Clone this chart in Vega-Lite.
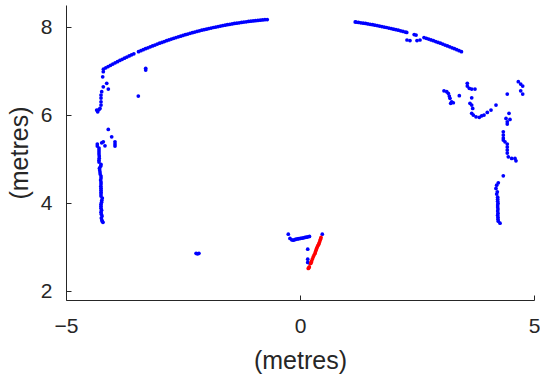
{
"$schema":"https://vega.github.io/schema/vega-lite/v6.json",
"width":468,"height":295,
"autosize":{"type":"none"},
"padding":{"left":66,"top":5,"right":6,"bottom":79},
"background":"white",
"config":{"view":{"stroke":null},
"axis":{"domainColor":"#262626","tickColor":"#262626","labelColor":"#262626","titleColor":"#262626","labelFont":"Liberation Sans","titleFont":"Liberation Sans","titleFontWeight":"normal","labelFontSize":21,"titleFontSize":25,"domainWidth":1,"tickWidth":1,"grid":false,"tickSize":-5,"labelFlush":false,"labelOverlap":false}},
"data":{"values":[
{"x":-4.20,"y":7.043,"c":"b"},{"x":-4.15,"y":7.072,"c":"b"},{"x":-4.10,"y":7.101,"c":"b"},{"x":-4.05,"y":7.130,"c":"b"},{"x":-4.00,"y":7.158,"c":"b"},{"x":-3.95,"y":7.186,"c":"b"},{"x":-3.90,"y":7.213,"c":"b"},{"x":-3.85,"y":7.240,"c":"b"},{"x":-3.80,"y":7.266,"c":"b"},{"x":-3.75,"y":7.292,"c":"b"},{"x":-3.70,"y":7.318,"c":"b"},{"x":-3.65,"y":7.343,"c":"b"},{"x":-3.60,"y":7.368,"c":"b"},{"x":-3.55,"y":7.392,"c":"b"},{"x":-3.45,"y":7.439,"c":"b"},{"x":-3.40,"y":7.462,"c":"b"},{"x":-3.35,"y":7.485,"c":"b"},{"x":-3.30,"y":7.507,"c":"b"},{"x":-3.25,"y":7.528,"c":"b"},{"x":-3.20,"y":7.550,"c":"b"},{"x":-3.15,"y":7.571,"c":"b"},{"x":-3.10,"y":7.591,"c":"b"},{"x":-3.05,"y":7.612,"c":"b"},{"x":-3.00,"y":7.632,"c":"b"},{"x":-2.95,"y":7.651,"c":"b"},{"x":-2.90,"y":7.670,"c":"b"},{"x":-2.85,"y":7.689,"c":"b"},{"x":-2.80,"y":7.707,"c":"b"},{"x":-2.75,"y":7.725,"c":"b"},{"x":-2.70,"y":7.743,"c":"b"},{"x":-2.65,"y":7.760,"c":"b"},{"x":-2.60,"y":7.777,"c":"b"},{"x":-2.55,"y":7.793,"c":"b"},{"x":-2.50,"y":7.810,"c":"b"},{"x":-2.45,"y":7.825,"c":"b"},{"x":-2.40,"y":7.841,"c":"b"},{"x":-2.35,"y":7.856,"c":"b"},{"x":-2.30,"y":7.871,"c":"b"},{"x":-2.25,"y":7.885,"c":"b"},{"x":-2.20,"y":7.899,"c":"b"},{"x":-2.15,"y":7.913,"c":"b"},{"x":-2.10,"y":7.927,"c":"b"},{"x":-2.05,"y":7.940,"c":"b"},{"x":-2.00,"y":7.952,"c":"b"},{"x":-1.95,"y":7.965,"c":"b"},{"x":-1.90,"y":7.977,"c":"b"},{"x":-1.85,"y":7.989,"c":"b"},{"x":-1.80,"y":8.000,"c":"b"},{"x":-1.75,"y":8.011,"c":"b"},{"x":-1.70,"y":8.022,"c":"b"},{"x":-1.65,"y":8.032,"c":"b"},{"x":-1.60,"y":8.042,"c":"b"},{"x":-1.55,"y":8.052,"c":"b"},{"x":-1.50,"y":8.062,"c":"b"},{"x":-1.45,"y":8.071,"c":"b"},{"x":-1.40,"y":8.080,"c":"b"},{"x":-1.35,"y":8.088,"c":"b"},{"x":-1.30,"y":8.096,"c":"b"},{"x":-1.25,"y":8.104,"c":"b"},{"x":-1.20,"y":8.112,"c":"b"},{"x":-1.15,"y":8.119,"c":"b"},{"x":-1.10,"y":8.126,"c":"b"},{"x":-1.05,"y":8.133,"c":"b"},{"x":-1.00,"y":8.139,"c":"b"},{"x":-0.95,"y":8.145,"c":"b"},{"x":-0.90,"y":8.150,"c":"b"},{"x":-0.85,"y":8.156,"c":"b"},{"x":-0.80,"y":8.161,"c":"b"},{"x":-0.75,"y":8.166,"c":"b"},{"x":-0.70,"y":8.170,"c":"b"},
{"x":1.18,"y":8.116,"c":"b"},{"x":1.20,"y":8.112,"c":"b"},{"x":1.25,"y":8.104,"c":"b"},{"x":1.30,"y":8.096,"c":"b"},{"x":1.35,"y":8.088,"c":"b"},{"x":1.40,"y":8.080,"c":"b"},{"x":1.45,"y":8.071,"c":"b"},{"x":1.50,"y":8.062,"c":"b"},{"x":1.55,"y":8.052,"c":"b"},{"x":1.60,"y":8.042,"c":"b"},{"x":1.65,"y":8.032,"c":"b"},{"x":1.70,"y":8.022,"c":"b"},{"x":1.75,"y":8.011,"c":"b"},{"x":1.80,"y":8.000,"c":"b"},{"x":1.85,"y":7.989,"c":"b"},{"x":1.90,"y":7.977,"c":"b"},{"x":1.95,"y":7.965,"c":"b"},{"x":2.00,"y":7.952,"c":"b"},{"x":2.05,"y":7.940,"c":"b"},{"x":2.10,"y":7.927,"c":"b"},{"x":2.15,"y":7.913,"c":"b"},{"x":2.20,"y":7.899,"c":"b"},{"x":2.25,"y":7.885,"c":"b"},{"x":2.28,"y":7.877,"c":"b"},{"x":2.44,"y":7.829,"c":"b"},{"x":2.48,"y":7.816,"c":"b"},{"x":2.65,"y":7.760,"c":"b"},{"x":2.70,"y":7.743,"c":"b"},{"x":2.75,"y":7.725,"c":"b"},{"x":2.80,"y":7.707,"c":"b"},{"x":2.85,"y":7.689,"c":"b"},{"x":2.90,"y":7.670,"c":"b"},{"x":2.95,"y":7.651,"c":"b"},{"x":3.00,"y":7.632,"c":"b"},{"x":3.05,"y":7.612,"c":"b"},{"x":3.10,"y":7.591,"c":"b"},{"x":3.15,"y":7.571,"c":"b"},{"x":3.20,"y":7.550,"c":"b"},{"x":3.25,"y":7.528,"c":"b"},{"x":3.30,"y":7.507,"c":"b"},{"x":3.35,"y":7.485,"c":"b"},{"x":3.40,"y":7.462,"c":"b"},{"x":3.45,"y":7.439,"c":"b"},
{"x":2.286,"y":7.705,"c":"b"},{"x":2.35,"y":7.693,"c":"b"},{"x":2.50,"y":7.693,"c":"b"},{"x":2.564,"y":7.705,"c":"b"},
{"x":-4.203,"y":6.984,"c":"b"},{"x":-4.216,"y":6.870,"c":"b"},{"x":-4.130,"y":6.720,"c":"b"},{"x":-4.203,"y":6.643,"c":"b"},{"x":-4.096,"y":6.591,"c":"b"},{"x":-4.237,"y":6.530,"c":"b"},{"x":-4.252,"y":6.455,"c":"b"},{"x":-4.252,"y":6.386,"c":"b"},{"x":-4.252,"y":6.302,"c":"b"},{"x":-4.252,"y":6.227,"c":"b"},{"x":-4.274,"y":6.152,"c":"b"},{"x":-4.344,"y":6.114,"c":"b"},{"x":-4.323,"y":6.075,"c":"b"},{"x":-4.295,"y":6.125,"c":"b"},{"x":-3.297,"y":7.061,"c":"b"},{"x":-3.297,"y":7.023,"c":"b"},{"x":-3.455,"y":6.432,"c":"b"},
{"x":-4.096,"y":5.675,"c":"b"},{"x":-4.024,"y":5.507,"c":"b"},{"x":-3.953,"y":5.393,"c":"b"},{"x":-3.953,"y":5.341,"c":"b"},{"x":-3.953,"y":5.295,"c":"b"},{"x":-4.331,"y":5.341,"c":"b"},{"x":-4.331,"y":5.295,"c":"b"},{"x":-4.237,"y":5.370,"c":"b"},{"x":-4.203,"y":5.393,"c":"b"},{"x":-4.167,"y":5.302,"c":"b"},
{"x":-4.295,"y":5.250,"c":"b"},{"x":-4.295,"y":5.205,"c":"b"},{"x":-4.295,"y":5.160,"c":"b"},{"x":-4.295,"y":5.115,"c":"b"},{"x":-4.290,"y":5.068,"c":"b"},{"x":-4.290,"y":5.020,"c":"b"},{"x":-4.295,"y":4.975,"c":"b"},{"x":-4.295,"y":4.932,"c":"b"},{"x":-4.252,"y":4.880,"c":"b"},{"x":-4.260,"y":4.840,"c":"b"},{"x":-4.285,"y":4.795,"c":"b"},{"x":-4.280,"y":4.750,"c":"b"},{"x":-4.274,"y":4.705,"c":"b"},{"x":-4.270,"y":4.659,"c":"b"},{"x":-4.252,"y":4.615,"c":"b"},{"x":-4.252,"y":4.570,"c":"b"},{"x":-4.260,"y":4.523,"c":"b"},{"x":-4.252,"y":4.480,"c":"b"},{"x":-4.252,"y":4.435,"c":"b"},{"x":-4.255,"y":4.386,"c":"b"},{"x":-4.252,"y":4.340,"c":"b"},{"x":-4.252,"y":4.295,"c":"b"},{"x":-4.250,"y":4.250,"c":"b"},{"x":-4.252,"y":4.205,"c":"b"},{"x":-4.252,"y":4.160,"c":"b"},{"x":-4.224,"y":4.114,"c":"b"},{"x":-4.235,"y":4.068,"c":"b"},{"x":-4.240,"y":4.022,"c":"b"},{"x":-4.252,"y":3.977,"c":"b"},{"x":-4.252,"y":3.932,"c":"b"},{"x":-4.252,"y":3.886,"c":"b"},{"x":-4.240,"y":3.841,"c":"b"},{"x":-4.252,"y":3.795,"c":"b"},{"x":-4.245,"y":3.750,"c":"b"},{"x":-4.230,"y":3.705,"c":"b"},{"x":-4.245,"y":3.660,"c":"b"},{"x":-4.235,"y":3.615,"c":"b"},{"x":-4.224,"y":3.585,"c":"b"},{"x":-4.210,"y":3.565,"c":"b"},
{"x":-2.22,"y":2.860,"c":"b"},{"x":-2.19,"y":2.850,"c":"b"},{"x":-2.16,"y":2.860,"c":"b"},
{"x":-0.250,"y":3.295,"c":"b"},{"x":-0.214,"y":3.198,"c":"b"},{"x":-0.177,"y":3.166,"c":"b"},{"x":-0.143,"y":3.159,"c":"b"},{"x":-0.110,"y":3.170,"c":"b"},{"x":-0.085,"y":3.182,"c":"b"},{"x":-0.050,"y":3.188,"c":"b"},{"x":-0.021,"y":3.193,"c":"b"},{"x":0.010,"y":3.200,"c":"b"},{"x":0.043,"y":3.205,"c":"b"},{"x":0.075,"y":3.212,"c":"b"},{"x":0.107,"y":3.220,"c":"b"},{"x":0.140,"y":3.228,"c":"b"},{"x":0.171,"y":3.234,"c":"b"},{"x":0.203,"y":3.243,"c":"b"},{"x":0.476,"y":3.295,"c":"b"},{"x":0.165,"y":2.955,"c":"b"},{"x":0.165,"y":2.727,"c":"b"},{"x":0.165,"y":2.652,"c":"b"},{"x":0.214,"y":2.630,"c":"b"},
{"x":3.077,"y":6.552,"c":"b"},{"x":3.135,"y":6.530,"c":"b"},{"x":3.169,"y":6.493,"c":"b"},{"x":3.190,"y":6.432,"c":"b"},{"x":3.205,"y":6.380,"c":"b"},{"x":3.241,"y":6.302,"c":"b"},{"x":3.276,"y":6.280,"c":"b"},{"x":3.220,"y":6.266,"c":"b"},{"x":3.404,"y":6.439,"c":"b"},
{"x":3.575,"y":6.720,"c":"b"},{"x":3.575,"y":6.659,"c":"b"},{"x":3.618,"y":6.607,"c":"b"},{"x":3.669,"y":6.591,"c":"b"},{"x":3.739,"y":6.591,"c":"b"},{"x":3.669,"y":6.393,"c":"b"},{"x":3.632,"y":6.266,"c":"b"},{"x":3.669,"y":6.227,"c":"b"},{"x":3.690,"y":6.152,"c":"b"},{"x":3.669,"y":6.039,"c":"b"},{"x":3.703,"y":6.000,"c":"b"},{"x":3.761,"y":5.961,"c":"b"},{"x":3.831,"y":5.948,"c":"b"},{"x":3.882,"y":5.984,"c":"b"},{"x":3.932,"y":6.000,"c":"b"},{"x":4.002,"y":6.061,"c":"b"},{"x":4.081,"y":6.114,"c":"b"},{"x":4.188,"y":6.227,"c":"b"},{"x":4.429,"y":6.477,"c":"b"},
{"x":4.665,"y":6.757,"c":"b"},{"x":4.716,"y":6.705,"c":"b"},{"x":4.759,"y":6.659,"c":"b"},{"x":4.716,"y":6.552,"c":"b"},{"x":4.759,"y":6.477,"c":"b"},
{"x":4.466,"y":6.039,"c":"b"},{"x":4.402,"y":5.925,"c":"b"},{"x":4.487,"y":5.902,"c":"b"},{"x":4.429,"y":5.848,"c":"b"},{"x":4.429,"y":5.795,"c":"b"},
{"x":4.344,"y":5.620,"c":"b"},{"x":4.344,"y":5.545,"c":"b"},{"x":4.344,"y":5.477,"c":"b"},{"x":4.344,"y":5.432,"c":"b"},{"x":4.380,"y":5.393,"c":"b"},{"x":4.429,"y":5.341,"c":"b"},{"x":4.429,"y":5.273,"c":"b"},{"x":4.429,"y":5.205,"c":"b"},{"x":4.429,"y":5.136,"c":"b"},{"x":4.451,"y":5.052,"c":"b"},{"x":4.523,"y":5.016,"c":"b"},{"x":4.594,"y":5.016,"c":"b"},{"x":4.615,"y":4.961,"c":"b"},{"x":4.344,"y":4.620,"c":"b"},
{"x":4.237,"y":4.461,"c":"b"},{"x":4.203,"y":4.409,"c":"b"},{"x":4.188,"y":4.334,"c":"b"},{"x":4.216,"y":4.257,"c":"b"},{"x":4.203,"y":4.205,"c":"b"},{"x":4.224,"y":4.136,"c":"b"},{"x":4.224,"y":4.090,"c":"b"},{"x":4.224,"y":4.045,"c":"b"},{"x":4.230,"y":4.000,"c":"b"},{"x":4.224,"y":3.955,"c":"b"},{"x":4.224,"y":3.910,"c":"b"},{"x":4.230,"y":3.864,"c":"b"},{"x":4.224,"y":3.820,"c":"b"},{"x":4.230,"y":3.773,"c":"b"},{"x":4.224,"y":3.727,"c":"b"},{"x":4.230,"y":3.680,"c":"b"},{"x":4.230,"y":3.636,"c":"b"},{"x":4.237,"y":3.590,"c":"b"},{"x":4.274,"y":3.545,"c":"b"},
{"x":0.177,"y":2.516,"c":"r"},{"x":0.188,"y":2.530,"c":"r"},{"x":0.199,"y":2.552,"c":"r"},{"x":0.229,"y":2.630,"c":"r"},{"x":0.240,"y":2.660,"c":"r"},{"x":0.250,"y":2.689,"c":"r"},{"x":0.267,"y":2.735,"c":"r"},{"x":0.284,"y":2.780,"c":"r"},{"x":0.300,"y":2.820,"c":"r"},{"x":0.321,"y":2.857,"c":"r"},{"x":0.330,"y":2.895,"c":"r"},{"x":0.342,"y":2.932,"c":"r"},{"x":0.356,"y":2.970,"c":"r"},{"x":0.370,"y":3.007,"c":"r"},{"x":0.385,"y":3.040,"c":"r"},{"x":0.400,"y":3.068,"c":"r"},{"x":0.413,"y":3.105,"c":"r"},{"x":0.427,"y":3.143,"c":"r"},{"x":0.438,"y":3.180,"c":"r"},{"x":0.449,"y":3.220,"c":"r"}
]},
"mark":{"type":"circle","size":14,"opacity":1},
"encoding":{
"x":{"field":"x","type":"quantitative","scale":{"domain":[-5,5],"nice":false,"zero":false},"axis":{"values":[-5,0,5],"title":"(metres)","labelPadding":20,"titlePadding":12}},
"y":{"field":"y","type":"quantitative","scale":{"domain":[1.8,8.5],"nice":false,"zero":false},"axis":{"values":[2,4,6,8],"title":"(metres)","labelPadding":19,"titlePadding":8}},
"color":{"field":"c","type":"nominal","scale":{"domain":["b","r"],"range":["#0000ff","#ff0000"]},"legend":null}
}
}
